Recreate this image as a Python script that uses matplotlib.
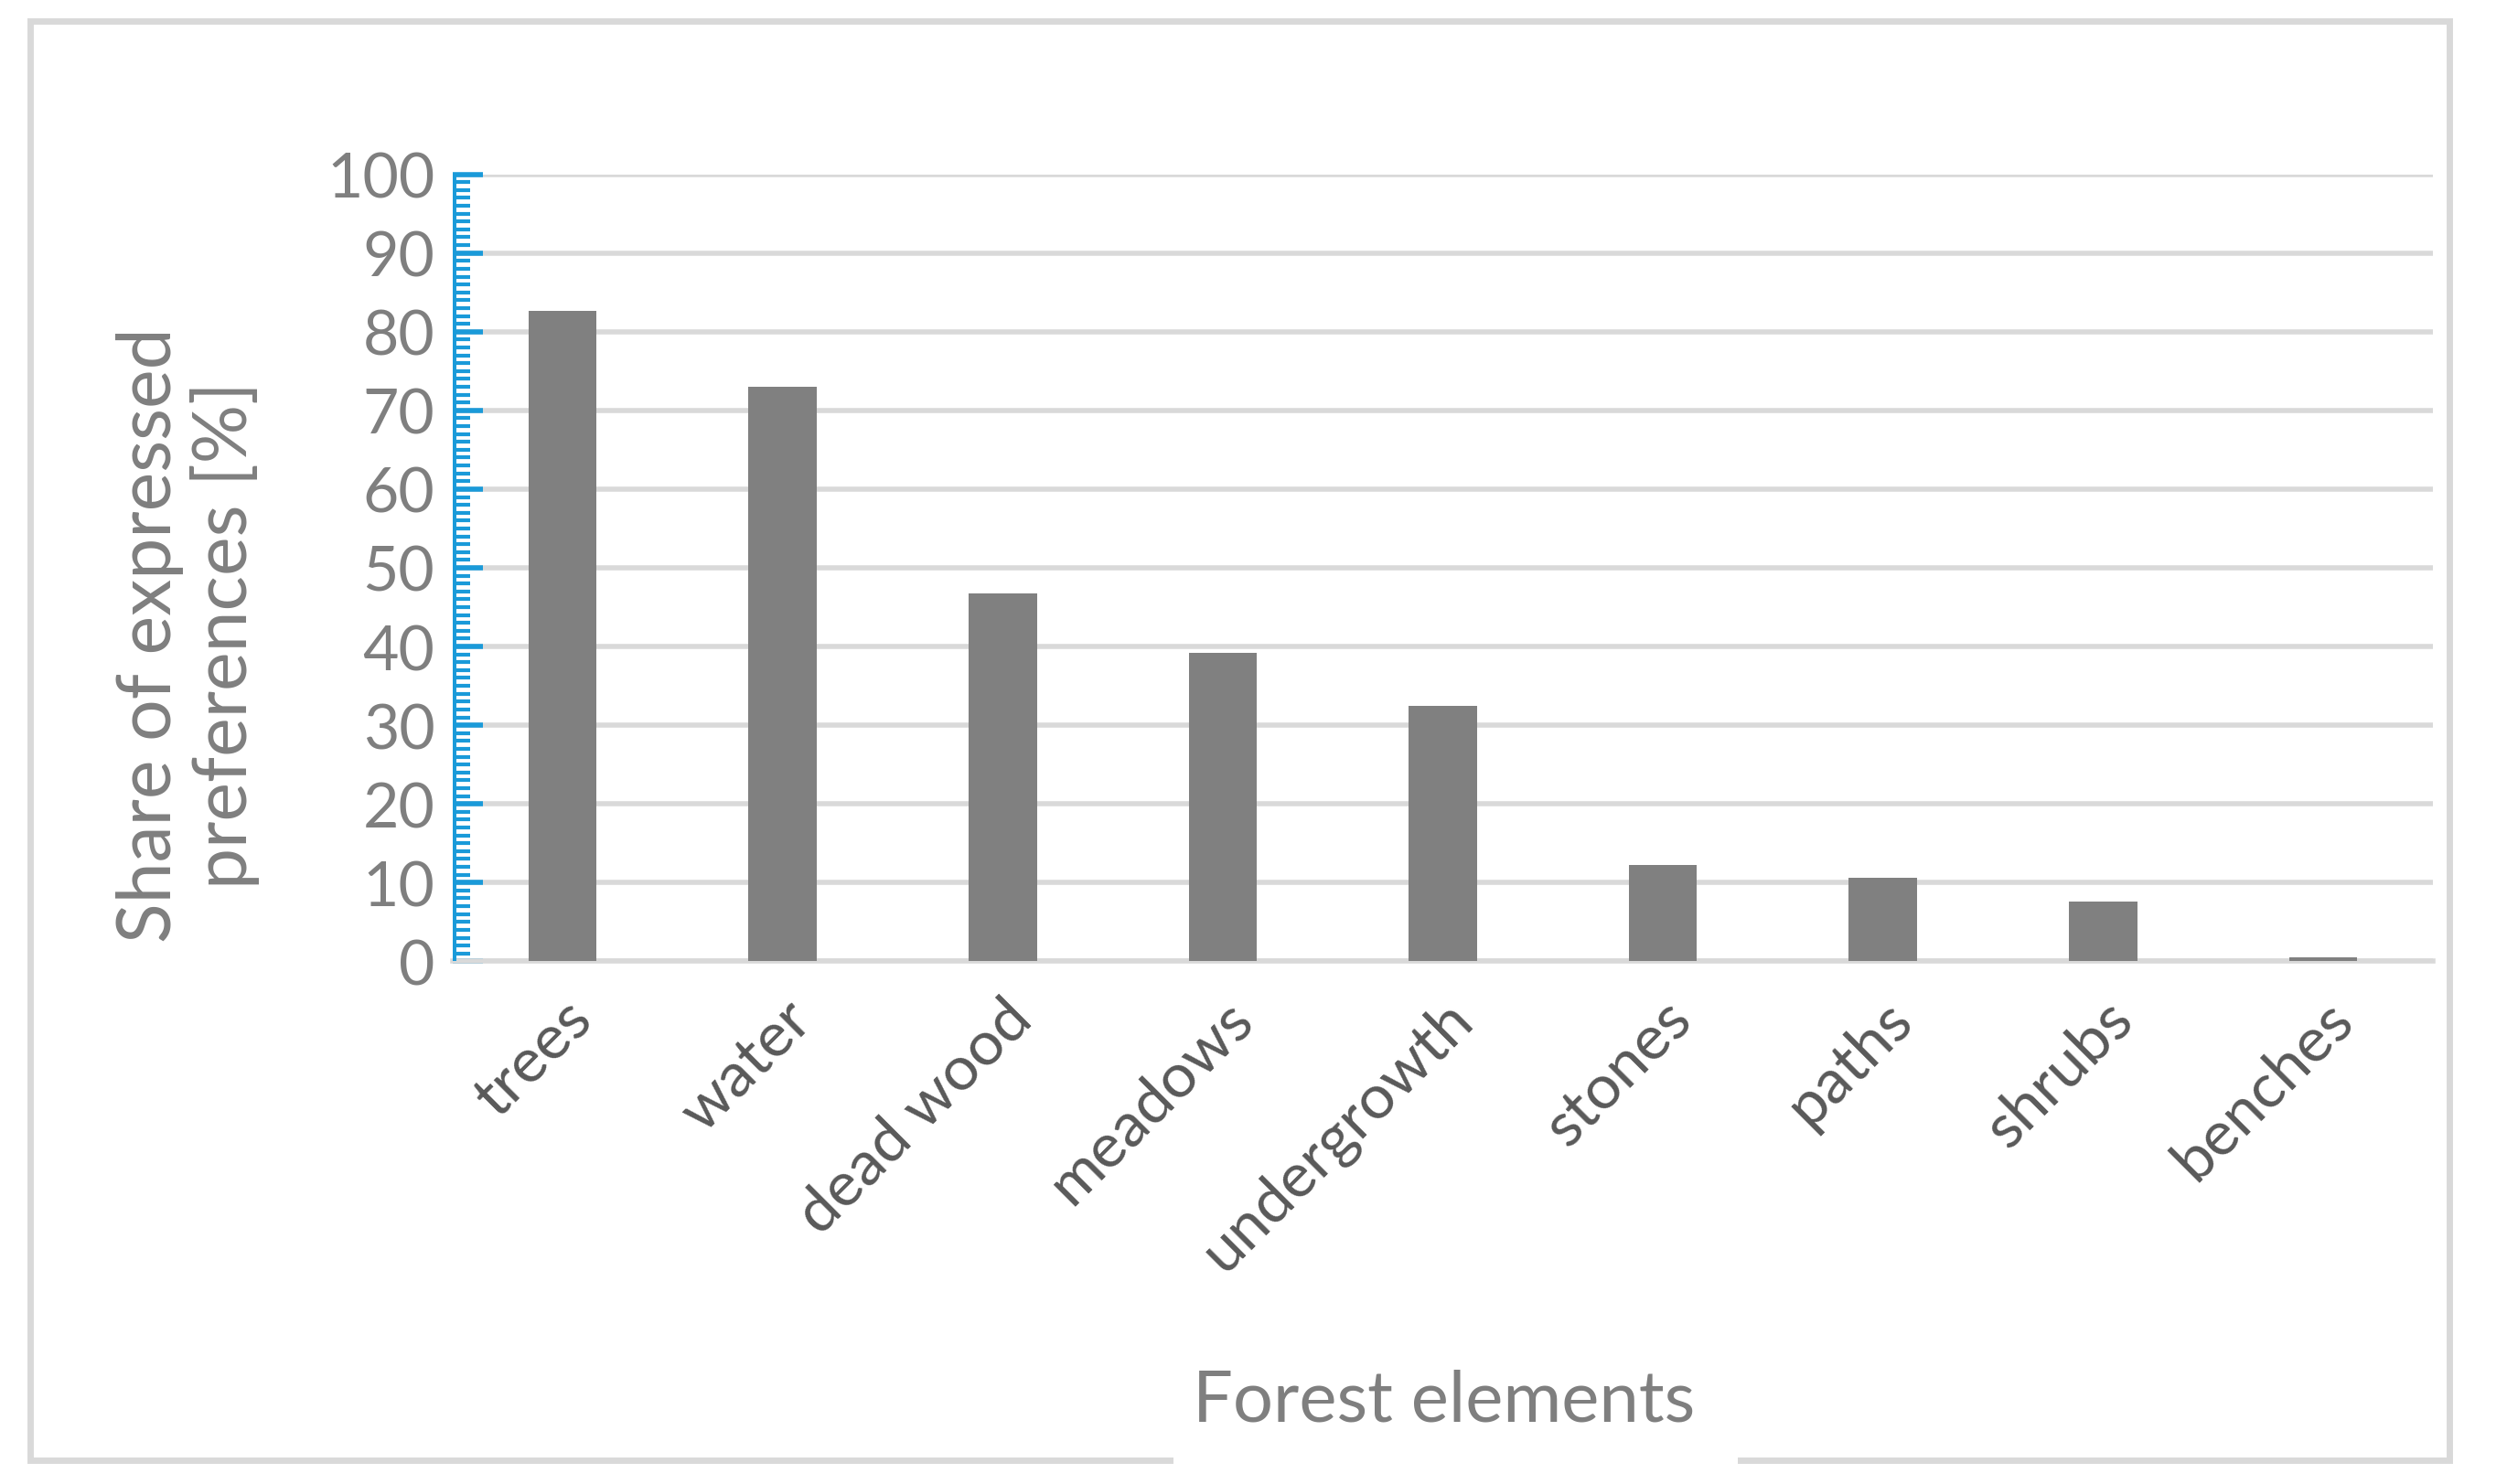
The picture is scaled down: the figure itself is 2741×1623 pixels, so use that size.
import matplotlib.pyplot as plt
from matplotlib.patches import Rectangle
from matplotlib.ticker import MultipleLocator

categories = ["trees", "water", "dead wood", "meadows", "undergrowth",
              "stones", "paths", "shrubs", "benches"]
shares = [82.7, 73.0, 46.7, 39.2, 32.4, 12.2, 10.6, 7.6, 0.5]

plt.rcParams["font.family"] = ["Lato", "DejaVu Sans"]

fig = plt.figure(figsize=(27.41, 16.24), dpi=100)
ax = fig.add_axes([0.1805, 0.352, 0.790, 0.530])

x = range(len(categories))
ax.bar(x, shares, width=0.31, color="#808080", zorder=3)

ax.set_xlim(-0.5, len(categories) - 0.5)
ax.set_ylim(0, 100)
ax.yaxis.set_major_locator(MultipleLocator(10))
ax.yaxis.set_minor_locator(MultipleLocator(1))
ax.grid(axis="y", color="#d9d9d9", linewidth=4, zorder=0)
ax.set_axisbelow(True)

for s in ("top", "right", "left"):
    ax.spines[s].set_visible(False)
ax.spines["bottom"].set_color("#d9d9d9")
ax.spines["bottom"].set_linewidth(4)
ax.axvline(-0.5, color="#1a9ad9", linewidth=5, zorder=4)

ax.tick_params(axis="y", which="major", direction="in", length=24, width=4,
               color="#1a9ad9", labelsize=49, labelcolor="#7f7f7f", pad=14)
ax.tick_params(axis="y", which="minor", direction="in", length=14, width=3,
               color="#1a9ad9")
ax.tick_params(axis="x", length=0, labelsize=49, labelcolor="#595959", pad=22)
ax.set_xticks(list(x))
ax.set_xticklabels(categories, rotation=45, ha="right", rotation_mode="anchor")

fig.text(0.075, 0.572, "Share of expressed\npreferences [%]", rotation=90,
         ha="center", va="center", fontsize=58, color="#7f7f7f",
         linespacing=1.1)

# outer frame with a gap under the axis title
fig.patches.append(Rectangle((0.012, 0.016), 0.965, 0.969, transform=fig.transFigure,
                             fill=False, edgecolor="#d9d9d9", linewidth=5))
fig.patches.append(Rectangle((0.468, 0.005), 0.225, 0.03, transform=fig.transFigure,
                             facecolor="white", edgecolor="none"))
fig.text(0.576, 0.056, "Forest elements", ha="center", va="center",
         fontsize=56, color="#7f7f7f")

fig.savefig("out.png", dpi=100, facecolor="white")
